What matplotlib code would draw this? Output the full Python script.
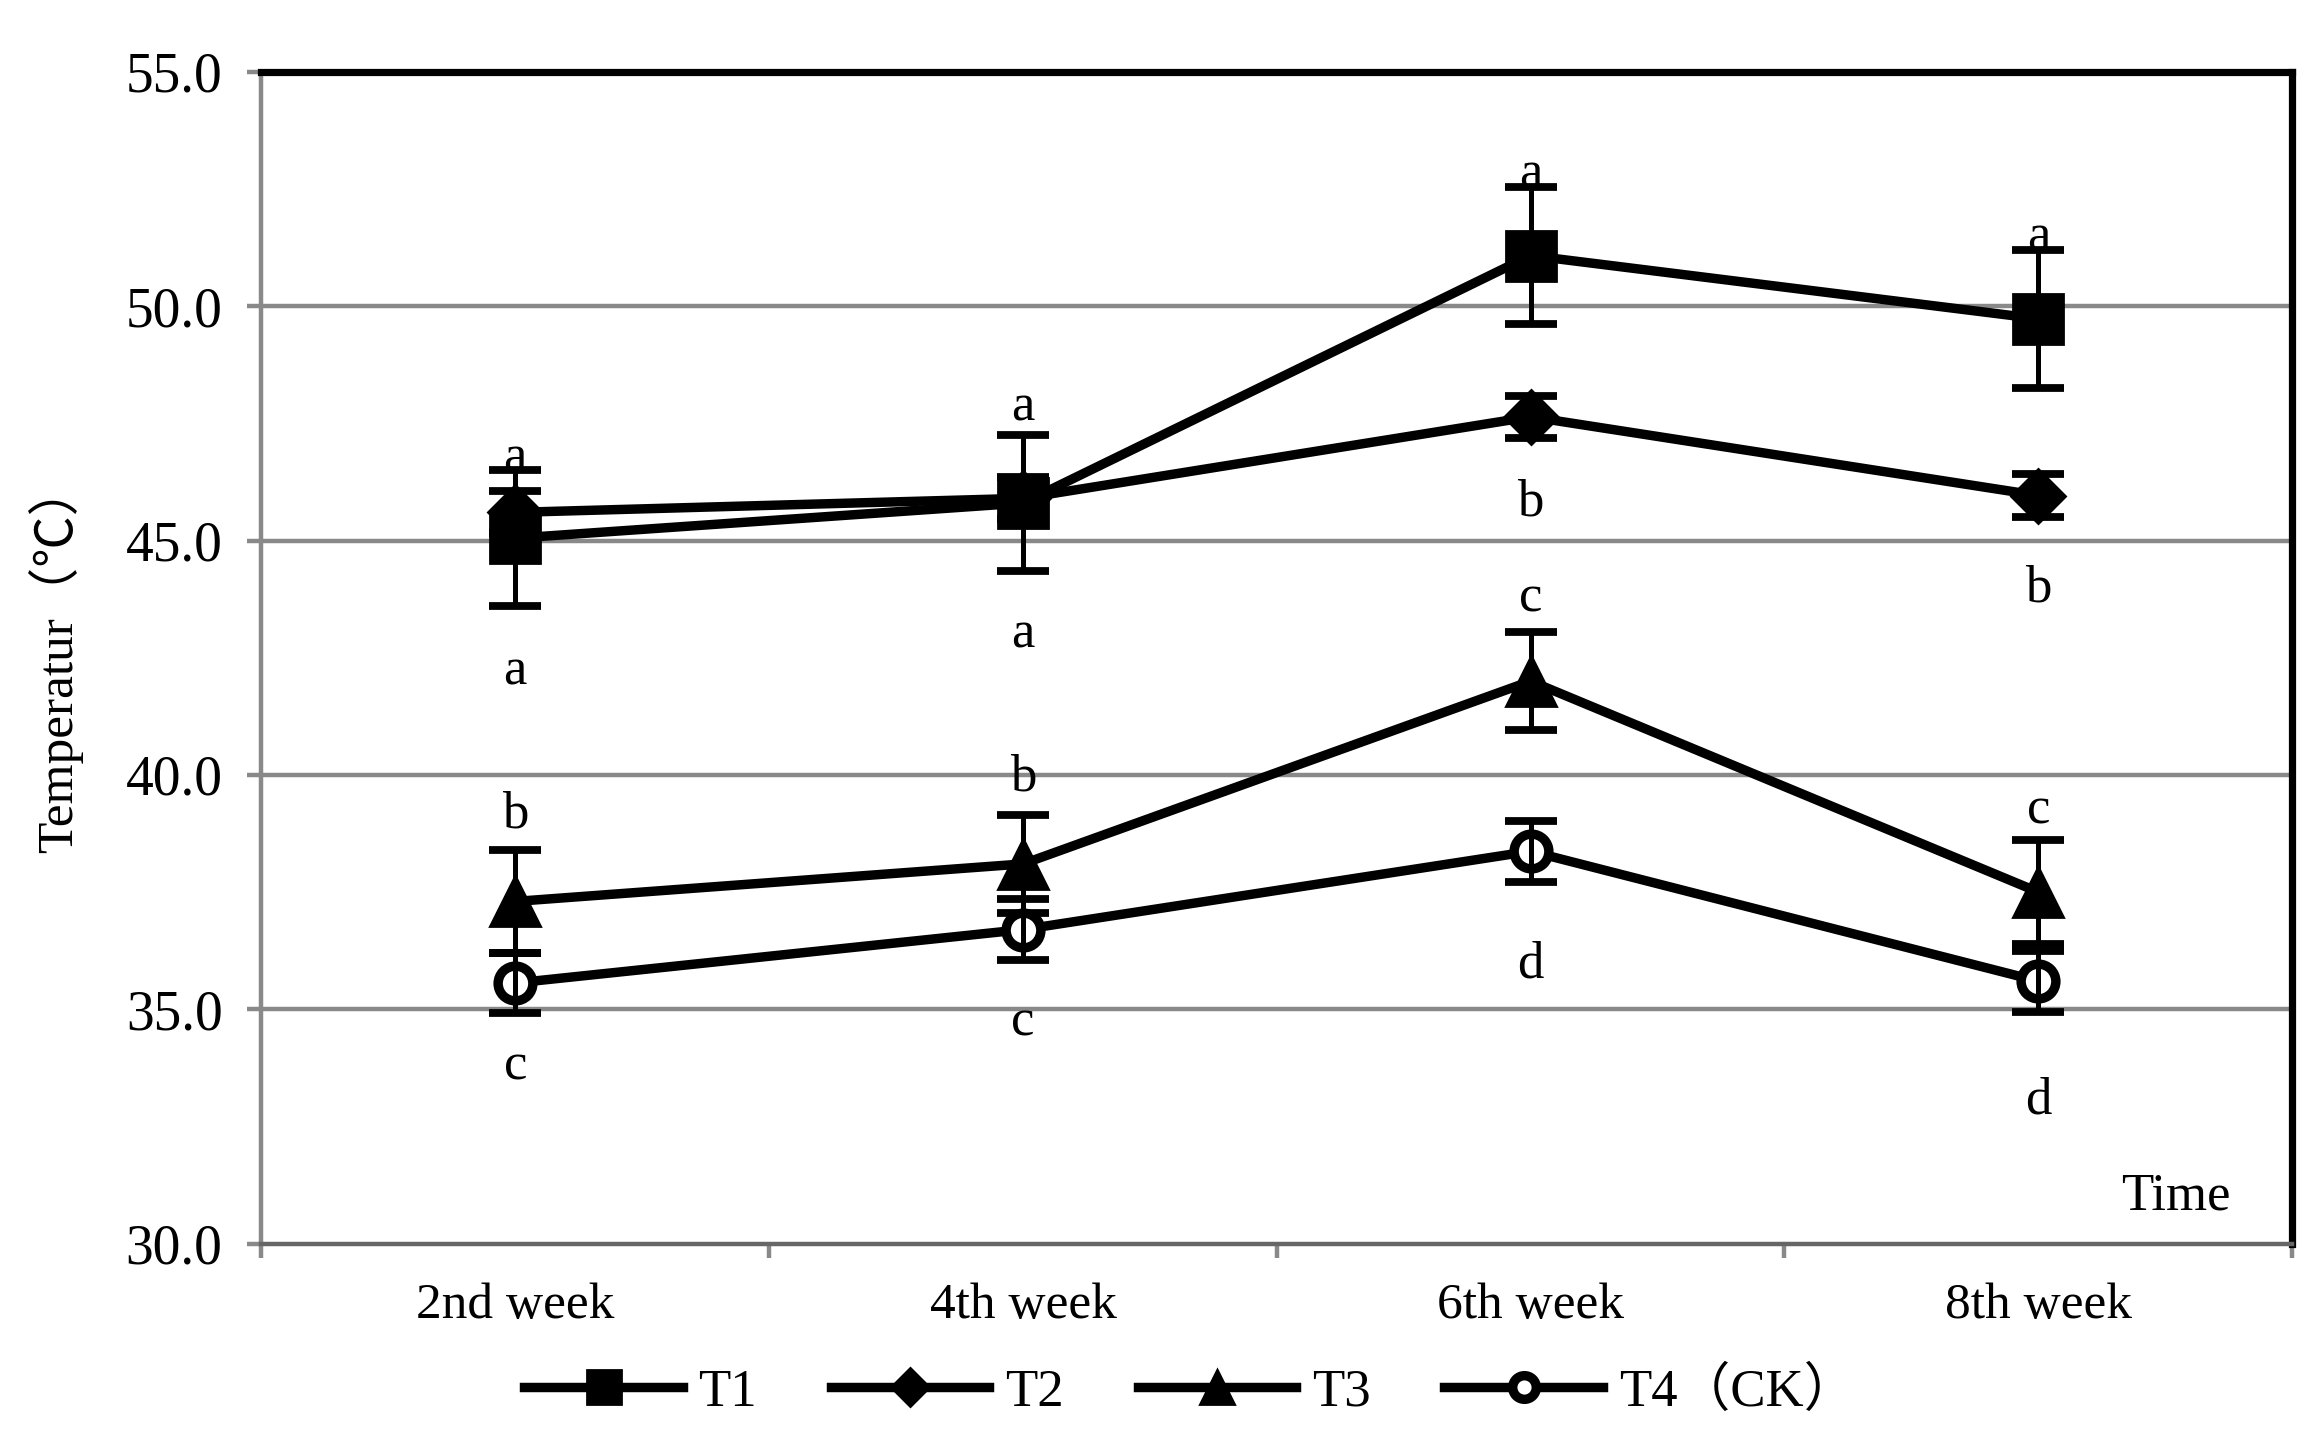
import numpy as np
import matplotlib
matplotlib.use('Agg')
import matplotlib.pyplot as plt

plt.rcParams['font.family'] = ['Liberation Serif', 'Noto Sans CJK SC']

# data
weeks = ['2nd week', '4th week', '6th week', '8th week']
series = ['T1', 'T2', 'T3', 'T4（CK）']

t1 = [45.05, 45.8, 51.08, 49.73]
t1_err = [1.45, 1.45, 1.47, 1.47]
t2 = [45.6, 45.9, 47.64, 45.96]
t2_err = [0.45, 0.45, 0.45, 0.45]
t3 = [37.3, 38.1, 42.0, 37.5]
t3_err = [1.1, 1.05, 1.05, 1.1]
t4 = [35.56, 36.7, 38.37, 35.6]
t4_err = [0.65, 0.65, 0.65, 0.65]

# significance letters: (week index, y value, letter)
letters = [
    (0, 46.75, 'a'), (0, 42.2, 'a'), (0, 39.15, 'b'), (0, 33.78, 'c'),
    (1, 47.83, 'a'), (1, 43.0, 'a'), (1, 39.95, 'b'), (1, 34.72, 'c'),
    (2, 52.8, 'a'), (2, 45.82, 'b'), (2, 43.76, 'c'), (2, 35.95, 'd'),
    (3, 51.47, 'a'), (3, 43.98, 'b'), (3, 39.24, 'c'), (3, 33.06, 'd'),
]

fig = plt.figure(figsize=(11.6, 7.18), dpi=200)
ax = fig.add_axes([0.1127, 0.134, 0.8753, 0.816])

x = np.arange(len(weeks))
grid_c = '#898989'

for yy in [35, 40, 45, 50]:
    ax.axhline(yy, color=grid_c, lw=1.6, zorder=1)

styles = [
    dict(marker='s', ms=18, mfc='black', mec='black'),
    dict(marker='D', ms=14, mfc='black', mec='black'),
    dict(marker='^', ms=18, mfc='black', mec='black'),
    dict(marker='o', ms=12.5, mfc='white', mec='black', mew=3.4),
]
data = [(t1, t1_err), (t2, t2_err), (t3, t3_err), (t4, t4_err)]

handles = []
for (vals, errs), st, name in zip(data, styles, series):
    h, = ax.plot(x, vals, color='black', lw=3.4, zorder=3, label=name, **st)
    ax.errorbar(x, vals, yerr=errs, fmt='none', ecolor='black', elinewidth=1.8,
                capsize=9.5, capthick=2.8, zorder=4)
    handles.append(h)

for i, yv, s in letters:
    ax.text(x[i], yv, s, ha='center', va='center', fontsize=19, zorder=5)

ax.set_xlim(-0.5, 3.5)
ax.set_ylim(30, 55)
ax.set_yticks([30, 35, 40, 45, 50, 55])
ax.set_yticklabels(['%.1f' % v for v in [30, 35, 40, 45, 50, 55]], fontsize=20)
ax.set_xticks(x)
ax.set_xticklabels(weeks, fontsize=18.5)
ax.set_xticks([-0.5, 0.5, 1.5, 2.5, 3.5], minor=True)
ax.tick_params(axis='x', which='major', length=0, pad=14)
ax.tick_params(axis='x', which='minor', length=5, width=1.6, color=grid_c, direction='out')
ax.tick_params(axis='y', length=5, width=1.6, color=grid_c, direction='out', pad=9)

ax.spines['left'].set_color(grid_c)
ax.spines['left'].set_linewidth(1.6)
ax.spines['bottom'].set_color('#666666')
ax.spines['bottom'].set_linewidth(1.6)
ax.spines['top'].set_color('black')
ax.spines['top'].set_linewidth(2.6)
ax.spines['right'].set_color('black')
ax.spines['right'].set_linewidth(2.6)

ax.set_ylabel('Temperatur（℃）', fontsize=18.5)
ax.yaxis.set_label_coords(-0.088, 0.5)
ax.text(3.27, 31.0, 'Time', fontsize=19, ha='center', va='center')

fig.legend(handles=handles, labels=series, loc='center', bbox_to_anchor=(0.513, 0.031),
           ncol=4, frameon=False, fontsize=19, handlelength=3.0, handletextpad=0.3,
           columnspacing=1.4, markerscale=0.68)

fig.savefig('out.png', dpi=200)
